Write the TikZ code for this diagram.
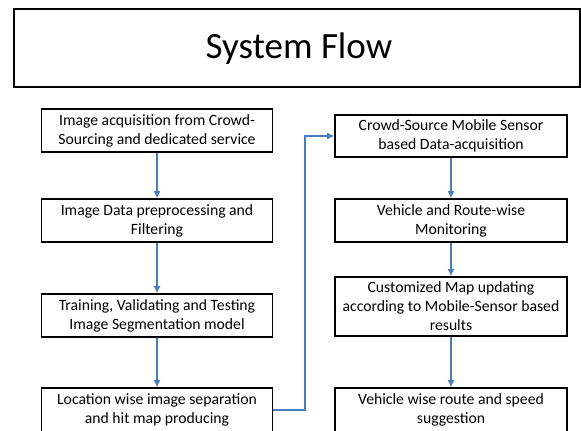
\documentclass[tikz,border=0pt]{standalone}
\usepackage{fontspec}
\setmainfont{Carlito}
\usetikzlibrary{arrows.meta}
\definecolor{flowblue}{HTML}{4A7EBB}
\tikzset{
  stepbox/.style={draw=black, line width=1.6pt, fill=white, align=center,
    inner sep=0pt, minimum width=#1, font=\fontsize{15.7}{19}\selectfont},
  stepbox/.default=231pt,
  flow/.style={draw=flowblue, line width=1.4pt,
    -{Latex[length=7pt,width=7pt]}},
}
\begin{document}
\begin{tikzpicture}[x=1pt,y=-1pt]
  \useasboundingbox (0,0) rectangle (581,431);
  % heading box
  \draw[line width=1.6pt] (14,9) rectangle (580,87);
  \node[font=\fontsize{37}{44}\selectfont] (title) at (299,49) {System Flow};

  % left column
  \node[stepbox, minimum height=43pt] (a1) at (157,130.5)
    {Image acquisition from Crowd-\\Sourcing and dedicated service};
  \node[stepbox, minimum height=43pt] (a2) at (157,220.5)
    {Image Data preprocessing and\\Filtering};
  \node[stepbox, minimum height=43pt] (a3) at (157,315.5)
    {Training, Validating and Testing\\Image Segmentation model};
  \node[stepbox, minimum height=44pt] (a4) at (157,410)
    {Location wise image separation\\and hit map producing};

  % right column
  \node[stepbox=232pt, minimum height=42pt] (b1) at (451,136)
    {Crowd-Source Mobile Sensor\\based Data-acquisition};
  \node[stepbox=232pt, minimum height=43pt] (b2) at (451,220.5)
    {Vehicle and Route-wise\\Monitoring};
  \node[stepbox=232pt, minimum height=59pt] (b3) at (451,306.5)
    {Customized Map updating\\according to Mobile-Sensor based\\results};
  \node[stepbox=232pt, minimum height=44pt] (b4) at (451,410)
    {Vehicle wise route and speed\\suggestion};

  % connectors
  \draw[flow] (a1) -- (a2);
  \draw[flow] (a2) -- (a3);
  \draw[flow] (a3) -- (a4);
  \draw[flow] (a4.east) -- (305,410) |- (b1.west);
  \draw[flow] (b1) -- (b2);
  \draw[flow] (b2) -- (b3);
  \draw[flow] (b3) -- (b4);
\end{tikzpicture}
\end{document}
